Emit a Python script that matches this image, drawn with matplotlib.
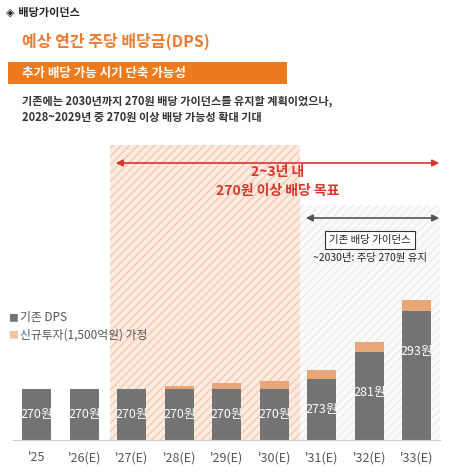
import matplotlib
matplotlib.use("Agg")
import matplotlib.pyplot as plt
from matplotlib.patches import Rectangle, FancyArrowPatch

plt.rcParams['font.family'] = ['Noto Sans CJK KR', 'DejaVu Sans']
plt.rcParams['hatch.linewidth'] = 1.0

categories = ["'25", "'26(E)", "'27(E)", "'28(E)", "'29(E)", "'30(E)", "'31(E)", "'32(E)", "'33(E)"]
base_dps = [270, 270, 270, 270, 270, 270, 273, 281, 293]
extra_dps = [0, 0, 0, 1.0, 1.7, 2.3, 2.6, 2.7, 3.1]
labels = ["270원", "270원", "270원", "270원", "270원", "270원", "273원", "281원", "293원"]

W, H = 456, 475
fig = plt.figure(figsize=(W/100, H/100), dpi=100)
def fx(px): return px / W
def fy(py): return 1 - py / H

ax = fig.add_axes([fx(13), fy(440), fx(427.5), fy(145) - fy(440)])
ymin = 255
ax.set_xlim(-0.5, 8.5)
ax.set_ylim(ymin, 255 + (440-145)/3.4)
x = list(range(len(categories)))

# hatched regions
ax.add_patch(Rectangle((1.54, ymin), 4.0, 200, facecolor='#fcebe1', edgecolor='#f3c8b0',
                       hatch='////', linewidth=0, zorder=0))
ax.add_patch(Rectangle((5.54, ymin), 3.01, 255 + (440-205)/3.4 - ymin, facecolor='#fbfbfb',
                       edgecolor='#ececec', hatch='////', linewidth=0, zorder=0))

ax.bar(x, [b - ymin for b in base_dps], bottom=ymin, width=0.61, color='#737373', zorder=2)
ax.bar(x, extra_dps, bottom=base_dps, width=0.61, color='#e8a679', zorder=2)
for i, (b, l) in enumerate(zip(base_dps, labels)):
    y = b - 12 if b > 275 else ymin + (b - ymin) * 0.5
    ax.text(i, y, l, ha='center', va='center', color='white', fontsize=9, zorder=3)

for s in ['top', 'right', 'left']:
    ax.spines[s].set_visible(False)
ax.spines['bottom'].set_color('#cccccc')
ax.set_yticks([])
ax.set_xticks(x)
ax.set_xticklabels(categories, fontsize=9, color='#555555')
ax.tick_params(axis='x', length=0, pad=8)

# arrows
fig.patches.append(FancyArrowPatch((fx(113), fy(163)), (fx(442), fy(163)), transform=fig.transFigure,
                                   arrowstyle='<|-|>', mutation_scale=10, color='#d9362b', lw=1.2))
fig.text(fx(278), fy(172), "2~3년 내", ha='center', va='center', color='#d9362b', fontsize=10, weight='bold')
fig.text(fx(278), fy(191), "270원 이상 배당 목표", ha='center', va='center', color='#d9362b', fontsize=10, weight='bold')
fig.patches.append(FancyArrowPatch((fx(303), fy(218)), (fx(442), fy(218)), transform=fig.transFigure,
                                   arrowstyle='<|-|>', mutation_scale=10, color='#555555', lw=1.2))
fig.text(fx(370), fy(240), "기존 배당 가이던스", ha='center', va='center', color='#222222', fontsize=7.5,
         bbox=dict(boxstyle='square,pad=0.35', facecolor='white', edgecolor='#333333', lw=0.8))
fig.text(fx(370), fy(258), "~2030년: 주당 270원 유지", ha='center', va='center', color='#222222', fontsize=7.5)

# legend
fig.text(fx(8), fy(318), "■", color='#737373', fontsize=7, va='center')
fig.text(fx(20), fy(318), "기존 DPS", color='#555555', fontsize=8.5, va='center')
fig.text(fx(8), fy(335), "■", color='#f0c4a6', fontsize=7, va='center')
fig.text(fx(20), fy(335), "신규투자(1,500억원) 가정", color='#555555', fontsize=8.5, va='center')

# header
fig.text(fx(6), fy(12), "◈ 배당가이던스", fontsize=8, weight='bold', color='#222222', va='center',
         family=['DejaVu Sans', 'Noto Sans CJK KR'])
fig.text(fx(22), fy(41), "예상 연간 주당 배당금(DPS)", fontsize=11.5, weight='bold', color='#ee7a2f', va='center')
fig.patches.append(Rectangle((fx(8), fy(84)), fx(279), fy(62) - fy(84), transform=fig.transFigure,
                             facecolor='#ee7a1e', edgecolor='none'))
fig.text(fx(22), fy(73), "추가 배당 가능 시기 단축 가능성", fontsize=9, weight='bold', color='white', va='center')
fig.text(fx(22), fy(101), "기존에는 2030년까지 270원 배당 가이던스를 유지할 계획이었으나,", fontsize=8, color='#333333', va='center', weight='bold')
fig.text(fx(22), fy(117), "2028~2029년 중 270원 이상 배당 가능성 확대 기대", fontsize=8, color='#333333', va='center', weight='bold')

fig.savefig("out.png", dpi=100)
